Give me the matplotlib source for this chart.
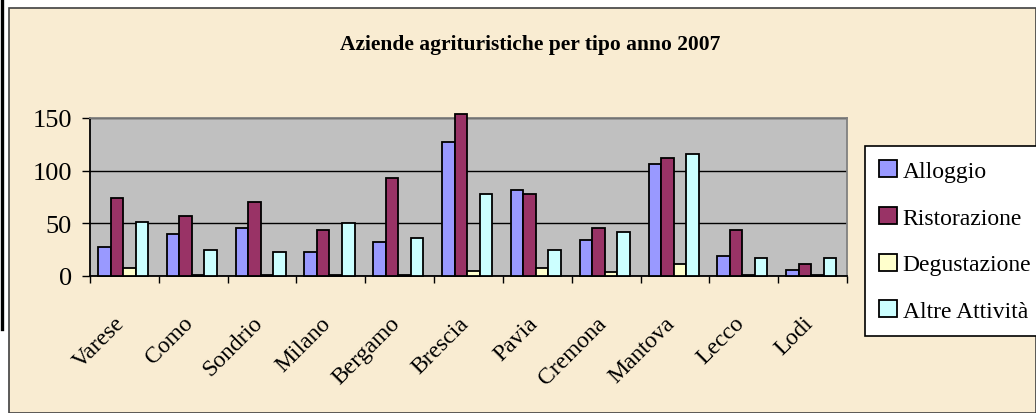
import matplotlib
matplotlib.use("Agg")
import matplotlib.pyplot as plt
import numpy as np
from matplotlib.patches import Rectangle
from matplotlib.lines import Line2D

plt.rcParams['font.family'] = ['Liberation Serif', 'DejaVu Serif']

provinces = ['Varese', 'Como', 'Sondrio', 'Milano', 'Bergamo', 'Brescia',
             'Pavia', 'Cremona', 'Mantova', 'Lecco', 'Lodi']
alloggio = [28, 40, 46, 23, 32, 127, 82, 34, 106, 19, 6]
ristorazione = [74, 57, 70, 44, 93, 154, 78, 46, 112, 44, 11]
degustazione = [8, 1, 1, 1, 1, 5, 8, 4, 11, 1, 1]
altre = [51, 25, 23, 50, 36, 78, 25, 42, 116, 17, 17]

series = [('Alloggio', alloggio, '#9999FF'),
          ('Ristorazione', ristorazione, '#993366'),
          ('Degustazione', degustazione, '#FFFFCC'),
          ('Altre Attività', altre, '#CCFFFF')]

W, H = 1036, 414
fig = plt.figure(figsize=(W / 100, H / 100), dpi=100)
fig.patch.set_facecolor('white')

# parchment chart area and borders
fig.add_artist(Rectangle((8.5 / W, 0), 1 - 8.5 / W, 1 - 8.5 / H, transform=fig.transFigure,
                         facecolor='#F9ECD2', edgecolor='#404040', lw=1.2, zorder=-10))
fig.add_artist(Line2D([1.5 / W, 1.5 / W], [1, 1 - 330 / H], transform=fig.transFigure,
                      color='black', lw=2.4))

ax = fig.add_axes([90 / W, 1 - 277 / H, 757 / W, 158 / H])
ax.set_facecolor('#C0C0C0')

x = np.arange(len(provinces))
bw = 0.182
for i, (name, vals, col) in enumerate(series):
    ax.bar(x + (i - 1.5) * bw - 0.02, vals, width=bw, color=col, edgecolor='black',
           linewidth=1.3, label=name, zorder=3, clip_on=False)

ax.set_xlim(-0.5, len(provinces) - 0.5)
ax.set_ylim(0, 150)
ax.set_yticks([0, 50, 100, 150])
ax.yaxis.grid(True, color='black', lw=1, zorder=1)
ax.set_axisbelow(True)

ax.set_xticks(np.arange(-0.5, len(provinces), 1.0))
ax.set_xticklabels([])
ax.set_xticks(x - 0.15, minor=True)
ax.set_xticklabels(provinces, minor=True, fontsize=17)
ax.tick_params(axis='x', which='major', direction='out', length=5, width=1, color='black')
ax.tick_params(axis='x', which='minor', length=0, pad=26)
for lab in ax.get_xticklabels(minor=True):
    lab.set_rotation(45)
    lab.set_ha('right')
    lab.set_va('top')
    lab.set_rotation_mode('anchor')
ax.tick_params(axis='y', direction='out', length=6, width=1, labelsize=19, pad=7)

ax.spines['left'].set_color('black')
ax.spines['bottom'].set_color('black')
ax.spines['top'].set_color('#808080')
ax.spines['right'].set_color('#808080')
for s in ax.spines.values():
    s.set_linewidth(1.3)

fig.text(530 / W, 1 - 45 / H, 'Aziende agrituristiche per tipo anno 2007',
         ha='center', va='center', fontsize=15.5, fontweight='bold')

leg = fig.legend(loc='upper left', bbox_to_anchor=(865 / W, 1 - 147 / H),
                 bbox_transform=fig.transFigure, fontsize=17, frameon=True,
                 fancybox=False, edgecolor='black', framealpha=1, borderpad=0.6,
                 labelspacing=1.05, handlelength=0.75, handleheight=0.75,
                 handletextpad=0.25, borderaxespad=0)
leg.get_frame().set_linewidth(1.2)

fig.savefig('out.png', dpi=100)
